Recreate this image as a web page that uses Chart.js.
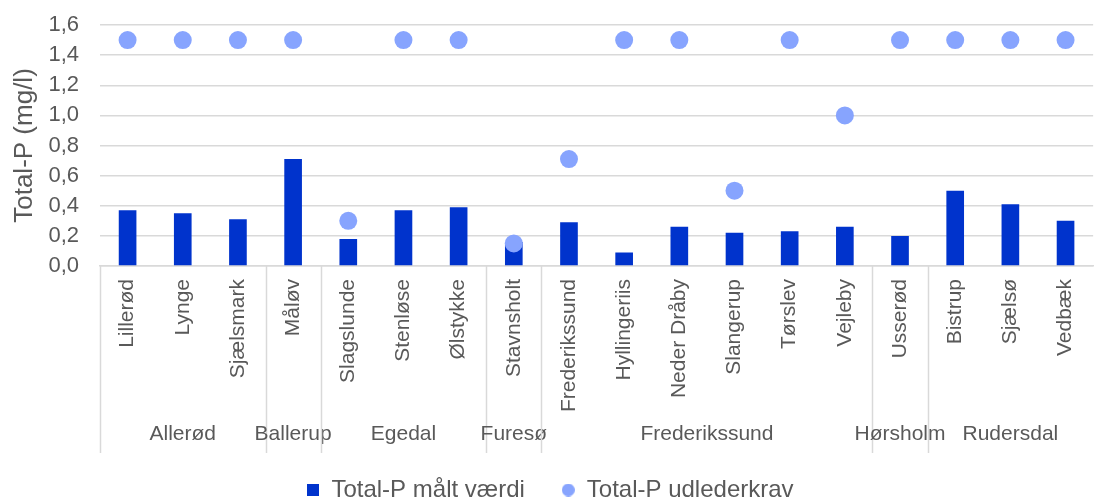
<!DOCTYPE html>
<html>
<head>
<meta charset="utf-8">
<script src="https://cdn.jsdelivr.net/npm/chart.js@4.4.1/dist/chart.umd.min.js"></script>
<style>
  html, body { margin: 0; padding: 0; background: #fff; overflow: hidden; }
  #wrap { width: 1104px; height: 512px; }
</style>
</head>
<body>
<div id="wrap"><canvas id="myChart"></canvas></div>
<script>
// renseanlæg, grouped by kommune
const plants = ['Lillerød', 'Lynge', 'Sjælsmark', 'Måløv', 'Slagslunde', 'Stenløse', 'Ølstykke',
  'Stavnsholt', 'Frederikssund', 'Hyllingeriis', 'Neder Dråby', 'Slangerup', 'Tørslev', 'Vejleby',
  'Usserød', 'Bistrup', 'Sjælsø', 'Vedbæk'];
const kommuner = ['Allerød', 'Ballerup', 'Egedal', 'Furesø', 'Frederikssund', 'Hørsholm', 'Rudersdal'];
const plantsPerKommune = [3, 1, 3, 1, 6, 1, 3];

const maaltVaerdi = [0.37, 0.35, 0.31, 0.71, 0.18, 0.37, 0.39, 0.16, 0.29, 0.09, 0.26, 0.22, 0.23, 0.26, 0.20, 0.50, 0.41, 0.30];
const udlederkrav = [1.5, 1.5, 1.5, 1.5, 0.3, 1.5, 1.5, 0.15, 0.71, 1.5, 1.5, 0.5, 1.5, 1.0, 1.5, 1.5, 1.5, 1.5];

const yTicks = [0, 0.2, 0.4, 0.6, 0.8, 1.0, 1.2, 1.4, 1.6];

const textColor = '#595959';
const gridColor = '#d9d9d9';
const barColor = '#0033CC';
const dotColor = '#87A4FE';
const fontFamily = "'Liberation Sans', Arial, sans-serif";

// small legend markers
function marker(kind, size, color) {
  const c = document.createElement('canvas');
  c.width = size; c.height = size;
  const g = c.getContext('2d');
  g.fillStyle = color;
  if (kind === 'rect') {
    g.fillRect(0, 0, size, size);
  } else {
    g.beginPath();
    g.arc(size / 2, size / 2, size / 2, 0, Math.PI * 2);
    g.fill();
  }
  return c;
}
const legendMarkers = [marker('rect', 12, barColor), marker('circle', 13, dotColor)];

// kommune names and divider lines under the plant names
const groupAxis = {
  id: 'groupAxis',
  afterDraw(chart) {
    const x = chart.scales.x;
    const ctx = chart.ctx;
    const bottom = chart.chartArea.bottom;
    const half = (x.getPixelForValue(1) - x.getPixelForValue(0)) / 2;
    ctx.save();
    ctx.strokeStyle = gridColor;
    ctx.lineWidth = 1.5;
    ctx.fillStyle = textColor;
    ctx.font = '21px ' + fontFamily;
    ctx.textAlign = 'center';
    ctx.textBaseline = 'middle';
    let start = 0;
    kommuner.forEach((k, i) => {
      const end = start + plantsPerKommune[i] - 1;
      const left = x.getPixelForValue(start) - half;
      const right = x.getPixelForValue(end) + half;
      ctx.beginPath();
      ctx.moveTo(Math.round(left) + 0.5, bottom);
      ctx.lineTo(Math.round(left) + 0.5, bottom + 187);
      ctx.stroke();
      ctx.fillText(k, (left + right) / 2, bottom + 168);
      start = end + 1;
    });
    ctx.restore();
  }
};

const ctx = document.getElementById('myChart').getContext('2d');
new Chart(ctx, {
  data: {
    labels: plants,
    datasets: [
      {
        type: 'bar',
        label: 'Total-P målt værdi',
        data: maaltVaerdi,
        backgroundColor: barColor,
        categoryPercentage: 1,
        barPercentage: 0.32,
        order: 1
      },
      {
        type: 'line',
        label: 'Total-P udlederkrav',
        data: udlederkrav,
        showLine: false,
        pointRadius: 9,
        pointHoverRadius: 9,
        pointBackgroundColor: dotColor,
        pointBorderWidth: 0,
        backgroundColor: dotColor,
        borderColor: dotColor,
        order: 0
      }
    ]
  },
  options: {
    responsive: true,
    maintainAspectRatio: false,
    animation: false,
    layout: { padding: { top: 25, right: 4, bottom: 0, left: 0 } },
    plugins: {
      tooltip: { enabled: false },
      legend: {
        position: 'bottom',
        labels: {
          color: textColor,
          font: { family: fontFamily, size: 24 },
          usePointStyle: true,
          boxWidth: 13,
          boxHeight: 13,
          padding: 37,
          sort: (a, b) => a.datasetIndex - b.datasetIndex,
          generateLabels(chart) {
            const items = Chart.defaults.plugins.legend.labels.generateLabels(chart);
            items.forEach(it => { it.pointStyle = legendMarkers[it.datasetIndex]; });
            return items;
          }
        }
      }
    },
    scales: {
      x: {
        grid: { display: false, drawTicks: false },
        border: { display: true, color: gridColor, width: 1.5 },
        ticks: {
          color: textColor,
          font: { family: fontFamily, size: 21 },
          maxRotation: 90,
          minRotation: 90,
          autoSkip: false,
          padding: 13
        },
        afterFit(scale) { scale.height = 175; }
      },
      y: {
        min: 0,
        max: 1.6,
        afterBuildTicks(scale) { scale.ticks = yTicks.map(v => ({ value: v })); },
        grid: { color: gridColor, lineWidth: 1.5, drawTicks: false },
        border: { display: false },
        ticks: {
          color: textColor,
          font: { family: fontFamily, size: 22 },
          padding: 21,
          autoSkip: false,
          callback: v => v.toFixed(1).replace('.', ',')
        },
        title: {
          display: true,
          text: 'Total-P (mg/l)',
          color: textColor,
          font: { family: fontFamily, size: 26 },
          padding: { top: 9, bottom: 0 }
        },
        afterFit(scale) {
          scale.width = 100;
          scale.paddingTop = 0;
          scale.paddingBottom = 0;
        }
      }
    }
  },
  plugins: [groupAxis]
});
</script>
</body>
</html>
